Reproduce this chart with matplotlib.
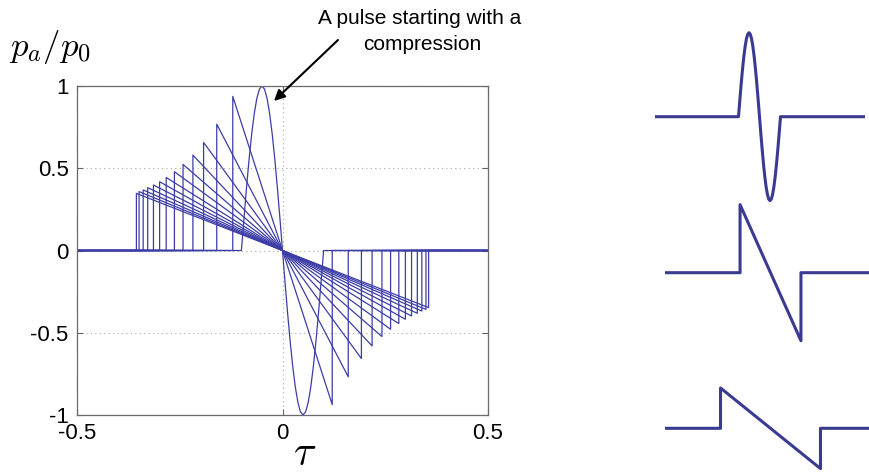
import matplotlib
matplotlib.use("Agg")
import matplotlib.pyplot as plt

plt.rcParams["font.family"] = ["Liberation Sans", "DejaVu Sans"]
plt.rcParams["mathtext.fontset"] = "cm"
plt.rcParams["axes.unicode_minus"] = False

# Initial single-cycle pulse: compression lobe (rarefaction lobe is its odd mirror)
pulse_tau = [-0.1, -0.09375, -0.0875, -0.08125, -0.075, -0.06875, -0.0625, -0.05625,
             -0.05, -0.04375, -0.0375, -0.03125, -0.025, -0.01875, -0.0125, -0.00625, 0.0]
pulse_p = [0.0, 0.195, 0.383, 0.556, 0.707, 0.831, 0.924, 0.981,
           1.0, 0.981, 0.924, 0.831, 0.707, 0.556, 0.383, 0.195, 0.0]

# Distorted waveforms further along: arrival time of the front shock and peak value
shock_tau = [-0.121, -0.160, -0.192, -0.218, -0.242, -0.263, -0.283,
             -0.299, -0.314, -0.328, -0.339, -0.349, -0.3555]
shock_peak = [0.937, 0.768, 0.657, 0.580, 0.523, 0.479, 0.444,
              0.418, 0.398, 0.382, 0.368, 0.358, 0.347]

# Side sketches: shock time and peak of the two N-waves
sketch_shock = [-0.145, -0.238]
sketch_peak = [0.81, 0.48]

x_ticks = [-0.5, 0, 0.5]
x_ticklabels = ["-0.5", "0", "0.5"]
y_ticks = [-1, -0.5, 0, 0.5, 1]
y_ticklabels = ["-1", "-0.5", "0", "0.5", "1"]

LINE = "#3d3da8"
SKETCH = "#3a3a92"
W, H = 870, 475


def full_pulse():
    tau = [-0.5] + pulse_tau + [-t for t in reversed(pulse_tau)] + [0.5]
    p = [0.0] + pulse_p + [-v for v in reversed(pulse_p)] + [0.0]
    return tau, p


def n_wave(s, a):
    tau = [-0.5, s, s, 0.0, -s, -s, 0.5]
    p = [0.0, 0.0, a, 0.0, -a, 0.0, 0.0]
    return tau, p


fig = plt.figure(figsize=(W / 100, H / 100), dpi=100)

# main panel
ax = fig.add_axes([77 / W, 1 - 415 / H, 411 / W, 329 / H])
t, p = full_pulse()
ax.plot(t, p, color=LINE, lw=0.9)
for s, a in zip(shock_tau, shock_peak):
    t, p = n_wave(s, a)
    ax.plot(t, p, color=LINE, lw=0.9)

ax.set_xlim(-0.5, 0.5)
ax.set_ylim(-1, 1)
ax.set_xticks(x_ticks)
ax.set_xticklabels(x_ticklabels)
ax.set_yticks(y_ticks)
ax.set_yticklabels(y_ticklabels)
ax.grid(True, linestyle=(0, (1, 3)), color="#a8a8a8", lw=0.8)
ax.tick_params(direction="in", top=True, right=True, length=4, width=0.8,
               color="#666666", labelsize=16, pad=6)
for sp in ax.spines.values():
    sp.set_color("#6a6a6a")
    sp.set_linewidth(0.9)

ax.set_ylabel(r"$p_a/p_0$", rotation=0, fontsize=25, ha="left", va="center")
ax.yaxis.set_label_coords((9 - 77) / 411, (415 - 47) / 329)
ax.set_xlabel(r"$\tau$", fontsize=30, va="center")
ax.xaxis.set_label_coords((305 - 77) / 411, (415 - 454) / 329)

# annotation
fig.text(420 / W, 1 - 19 / H, "A pulse starting with a", fontsize=15,
         ha="center", va="center")
fig.text(422 / W, 1 - 45 / H, "compression", fontsize=15,
         ha="center", va="center")
ax.annotate("", xy=(-0.0207, 0.909), xycoords="data",
            xytext=(338, H - 40), textcoords="figure pixels",
            arrowprops=dict(arrowstyle="-|>", color="black", lw=1.5,
                            mutation_scale=16, shrinkA=0, shrinkB=0))

# side sketches
sketch_boxes = [(759.5, 116.7), (770.5, 272.7), (770.5, 428.3)]
sketch_axes = []
for cx, cy in sketch_boxes:
    sa = fig.add_axes([(cx - 105) / W, 1 - (cy + 92.4) / H, 210 / W, 184.8 / H])
    sa.set_xlim(-0.5, 0.5)
    sa.set_ylim(-1.1, 1.1)
    sa.axis("off")
    sa.patch.set_alpha(0)
    sketch_axes.append(sa)

t, p = full_pulse()
sketch_axes[0].plot(t, p, color=SKETCH, lw=2.2, solid_joinstyle="round")
for sa, s, a in zip(sketch_axes[1:], sketch_shock, sketch_peak):
    t, p = n_wave(s, a)
    sa.plot(t, p, color=SKETCH, lw=2.2, solid_joinstyle="round")

fig.savefig("out.png", dpi=100)
